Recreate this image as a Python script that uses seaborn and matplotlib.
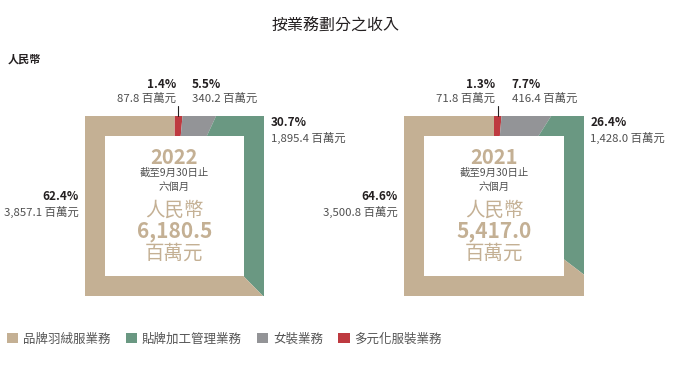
import matplotlib
matplotlib.use('Agg')
import numpy as np
import matplotlib.pyplot as plt
import seaborn as sns
from matplotlib.patches import Rectangle, Patch
from matplotlib.lines import Line2D

# ---------------- data ----------------
categories = ['品牌羽絨服業務', '貼牌加工管理業務', '女裝業務', '多元化服裝業務']
years = ['2022', '2021']
values_2022 = [3857.1, 1895.4, 340.2, 87.8]
pct_2022 = [62.4, 30.7, 5.5, 1.4]
values_2021 = [3500.8, 1428.0, 416.4, 71.8]
pct_2021 = [64.6, 26.4, 7.7, 1.3]
totals = [6180.5, 5417.0]

title = '按業務劃分之收入'
unit_label = '人民幣'
period_line1 = '截至9月30日止'
period_line2 = '六個月'
unit = '百萬元'

# ---------------- style ----------------
sns.set_theme(style='white')
FAM = ['Noto Sans CJK TC', 'DejaVu Sans']
plt.rcParams['font.family'] = FAM

palette = sns.color_palette(['#C4B094', '#6A9882', '#939497', '#BE3A40'])
DARK = '#231F20'
GREY_TXT = '#505050'
TAN = '#C4B094'

W, H = 682, 367
fig = plt.figure(figsize=(W / 100, H / 100), dpi=100)
fig.patch.set_facecolor('white')


def fx(x):
    return x / W


def fy(y):
    return 1 - y / H


fig.text(fx(336), fy(26), title, ha='center', va='center', fontsize=11.5,
         color=DARK, family=FAM, fontweight='medium')
fig.text(fx(8), fy(59), unit_label, ha='left', va='center', fontsize=8,
         color=DARK, fontweight='bold', family=FAM)

charts = [
    dict(x0=85, w=179, vals=values_2022, pct=pct_2022, year=years[0], total=totals[0]),
    dict(x0=404, w=180, vals=values_2021, pct=pct_2021, year=years[1], total=totals[1]),
]
TOP, BOT = 116, 296
INNER = 0.777

for c in charts:
    x0, w = c['x0'], c['w']
    cx = x0 + w / 2
    ax = fig.add_axes([fx(x0), fy(BOT), w / W, (BOT - TOP) / H])
    vals = c['vals'][::-1]
    cols = list(palette)[::-1]
    wedges, _ = ax.pie(vals, colors=cols, startangle=90, counterclock=False,
                       radius=3, wedgeprops=dict(linewidth=0, antialiased=True))
    ax.set_xlim(-1, 1)
    ax.set_ylim(-1, 1)
    ax.set_aspect('auto')
    ax.axis('off')
    clip = Rectangle((-1, -1), 2, 2, transform=ax.transData)
    for wd in wedges:
        wd.set_clip_on(True)
        wd.set_clip_path(clip)
    ax.add_patch(Rectangle((-INNER, -INNER), 2 * INNER, 2 * INNER,
                           facecolor='white', edgecolor='none', zorder=5))

    # leader line above the smallest slice
    frac_mid = (c['vals'][3] / 2) / sum(c['vals'])
    lx = cx + np.tan(np.deg2rad(frac_mid * 360)) * w / 2
    fig.add_artist(Line2D([fx(lx), fx(lx)], [fy(106), fy(TOP)], color=DARK, lw=0.8))

    # labels
    labels = [
        (cx - 96, 196, 212, 'right', 0),   # brand down apparel
        (cx + 96.5, 123, 138, 'left', 1),  # OEM
        (cx + 17.5, 84, 98.5, 'left', 2),  # ladies
        (cx + 1.5, 84, 98.5, 'right', 3),  # diversified
    ]
    for lx_, y1, y2, ha, i in labels:
        fig.text(fx(lx_), fy(y1), f"{c['pct'][i]:.1f}%", ha=ha, va='center',
                 fontsize=8.5, fontweight='bold', color=DARK, family=FAM)
        fig.text(fx(lx_), fy(y2), f"{c['vals'][i]:,.1f} {unit}", ha=ha, va='center',
                 fontsize=8.2, color=GREY_TXT, family=FAM)

    # center text
    fig.text(fx(cx), fy(158), c['year'], ha='center', va='center', fontsize=14.5,
             fontweight='bold', color=TAN, family=FAM)
    fig.text(fx(cx), fy(173), period_line1, ha='center', va='center', fontsize=7.5,
             color=GREY_TXT, family=FAM)
    fig.text(fx(cx), fy(187), period_line2, ha='center', va='center', fontsize=7.5,
             color=GREY_TXT, family=FAM)
    fig.text(fx(cx), fy(210), unit_label, ha='center', va='center', fontsize=14,
             color=TAN, family=FAM)
    fig.text(fx(cx), fy(232), f"{c['total']:,.1f}", ha='center', va='center',
             fontsize=15, fontweight='bold', color=TAN, family=FAM)
    fig.text(fx(cx), fy(253), unit, ha='center', va='center', fontsize=14,
             color=TAN, family=FAM)

handles = [Patch(facecolor=palette[i], edgecolor='none', label=categories[i])
           for i in range(4)]
leg = fig.legend(handles=handles, loc='center left', bbox_to_anchor=(fx(7), fy(339)),
                 ncol=4, frameon=False, handlelength=0.9, handleheight=0.9,
                 handletextpad=0.4, columnspacing=1.2, borderpad=0, borderaxespad=0,
                 prop=dict(family=FAM, size=9))
for t in leg.get_texts():
    t.set_color('#555555')

fig.savefig('out.png', dpi=100, facecolor='white')
